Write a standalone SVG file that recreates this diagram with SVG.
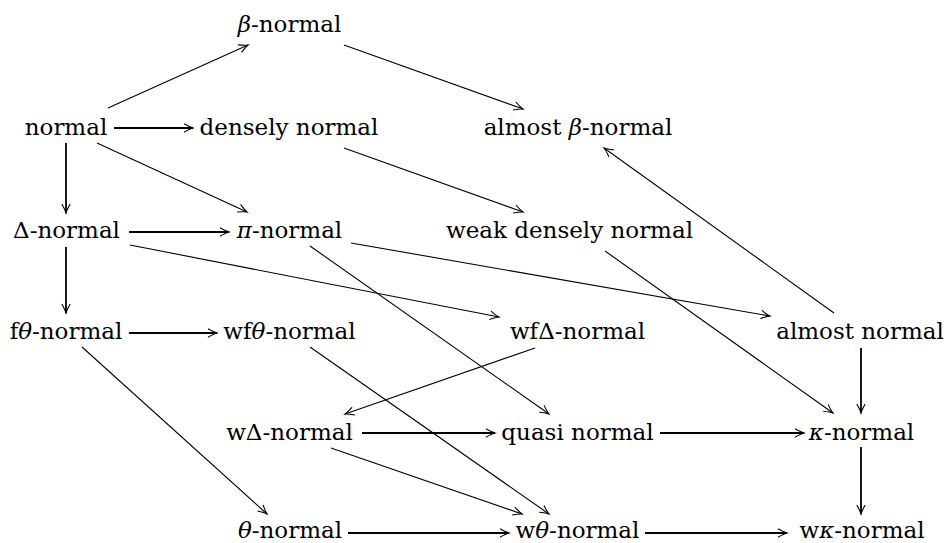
<svg xmlns="http://www.w3.org/2000/svg" width="944" height="543" viewBox="0 0 944 543">
<style>
text{font-family:"DejaVu Serif","Liberation Serif",serif;font-size:23px;fill:#000;text-anchor:middle}
.i{font-style:italic}
#edges line{stroke:#000;stroke-width:1.1;fill:none;marker-end:url(#ah)}
#edges line.s{stroke-width:1.8}
</style>
<defs>
<marker id="ah" markerUnits="userSpaceOnUse" markerWidth="14" markerHeight="12" viewBox="-11 -6 13 12" refX="0" refY="0" orient="auto">
<path d="M-9,-4.2 Q-3,-0.8 0,0 Q-3,0.8 -9,4.2" fill="none" stroke="#000" stroke-width="1.1"/>
</marker>
</defs>
<rect width="944" height="543" fill="#fff"/>
<g id="edges">
<line x1="108" y1="108" x2="248" y2="45"/>
<line class="s" x1="114" y1="128" x2="193" y2="128"/>
<line x1="97" y1="143" x2="247" y2="212"/>
<line class="s" x1="66" y1="143" x2="66" y2="213"/>
<line x1="344" y1="45" x2="523" y2="109"/>
<line x1="344" y1="148" x2="523" y2="212"/>
<line class="s" x1="129" y1="232" x2="229" y2="232"/>
<line class="s" x1="66" y1="247" x2="66" y2="313"/>
<line x1="130" y1="245" x2="499" y2="317"/>
<line x1="351" y1="243" x2="770" y2="316"/>
<line x1="310" y1="246" x2="549" y2="414"/>
<line x1="605" y1="251" x2="833" y2="413"/>
<line x1="834" y1="313" x2="604" y2="148"/>
<line class="s" x1="861" y1="348" x2="861" y2="413"/>
<line class="s" x1="129" y1="333" x2="217" y2="333"/>
<line x1="82" y1="347" x2="267" y2="514"/>
<line x1="310" y1="347" x2="549" y2="514"/>
<line x1="535" y1="348" x2="345" y2="414"/>
<line class="s" x1="362" y1="433" x2="495" y2="433"/>
<line x1="331" y1="448" x2="522" y2="514"/>
<line class="s" x1="660" y1="433" x2="804" y2="433"/>
<line class="s" x1="861" y1="447" x2="861" y2="514"/>
<line class="s" x1="348" y1="533" x2="509" y2="533"/>
<line class="s" x1="645" y1="533" x2="787" y2="533"/>
</g>
<g id="beta-normal"><text x="289.5" y="32"><tspan class="i">β</tspan>-normal</text></g>
<g id="normal"><text x="66" y="135">normal</text></g>
<g id="densely-normal"><text x="289" y="135">densely normal</text></g>
<g id="almost-beta-normal"><text x="578" y="135">almost <tspan class="i">β</tspan>-normal</text></g>
<g id="delta-normal"><text x="66.5" y="238">Δ-normal</text></g>
<g id="pi-normal"><text x="289.5" y="238"><tspan class="i">π</tspan>-normal</text></g>
<g id="weak-densely-normal"><text x="569.5" y="238">weak densely normal</text></g>
<g id="ftheta-normal"><text x="66" y="339">f<tspan class="i">θ</tspan>-normal</text></g>
<g id="wftheta-normal"><text x="289.5" y="339">wf<tspan class="i">θ</tspan>-normal</text></g>
<g id="wfdelta-normal"><text x="577.5" y="339">wfΔ-normal</text></g>
<g id="almost-normal"><text x="860" y="339">almost normal</text></g>
<g id="wdelta-normal"><text x="289.5" y="440">wΔ-normal</text></g>
<g id="quasi-normal"><text x="577.5" y="440">quasi normal</text></g>
<g id="kappa-normal"><text x="861.5" y="440"><tspan class="i">κ</tspan>-normal</text></g>
<g id="theta-normal"><text x="290" y="538"><tspan class="i">θ</tspan>-normal</text></g>
<g id="wtheta-normal"><text x="577.5" y="538">w<tspan class="i">θ</tspan>-normal</text></g>
<g id="wkappa-normal"><text x="862" y="538">w<tspan class="i">κ</tspan>-normal</text></g>
</svg>
